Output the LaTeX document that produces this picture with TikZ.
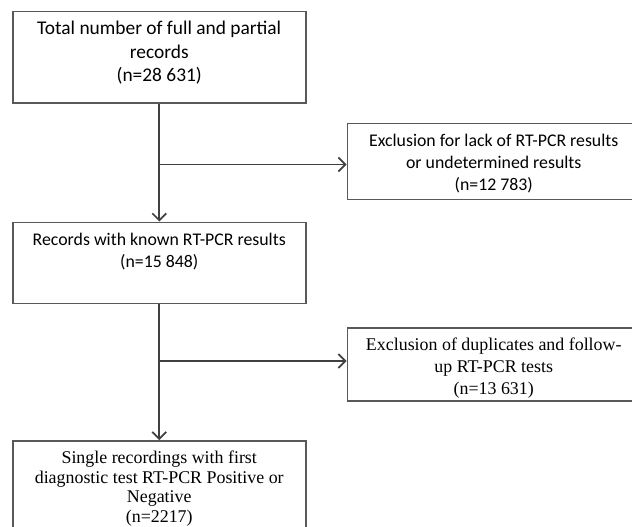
\documentclass[tikz,border=0pt]{standalone}
\usepackage{fontspec}
\setmainfont{Carlito}
\newfontfamily\timesfont{Liberation Serif}
\usetikzlibrary{arrows.meta,positioning}

\begin{document}
\begin{tikzpicture}[
        x=1pt, y=1pt,
        node distance=118pt and 40pt,
        box/.style={draw=black!65, line width=1.5pt, minimum width=293pt, inner sep=0pt},
        calibri/.style={font=\fontsize{17.8}{22}\selectfont, align=center, anchor=north, inner sep=0pt, yshift=-11pt},
        times/.style={font=\timesfont\fontsize{17.9}{22}\selectfont, align=center, anchor=north, inner sep=0pt, yshift=-11pt},
        flow/.style={draw=black!75, line width=1.6pt, -{Straight Barb[length=7pt, width=14pt]}}
    ]
  \useasboundingbox (0,0) rectangle (632,-527);
  \clip (0,0) rectangle (632,-527);

  % Boxes
  \node (total) [box, minimum height=91pt, anchor=north west,
    label={[calibri, font=\fontsize{19.4}{23.5}\selectfont, yshift=1pt]north:Total number of full and partial\\records\\(n=28 631)}] at (12,-11) {};
  \node (excl1) [box, minimum height=76pt, below right=19pt and 40pt of total,
    label={[calibri]north:Exclusion for lack of RT-PCR results\\or undetermined results\\(n=12 783)}] {};
  \node (known) [box, minimum height=81pt, below=of total,
    label={[calibri]north:Records with known RT-PCR results\\(n=15 848)}] {};
  \node (excl2) [box, minimum height=73pt, below right=23pt and 40pt of known,
    label={[times]north:Exclusion of duplicates and follow-\\up RT-PCR tests\\(n=13 631)}] {};
  \node (single) [box, minimum height=120pt, below=136pt of known,
    label={[times, font=\timesfont\fontsize{17.9}{19.5}\selectfont]north:Single recordings with first\\diagnostic test RT-PCR Positive or\\Negative\\(n=2217)}] {};

  % Branch points
  \path (total.south) ++(0,-61) coordinate (split1);
  \path (known.south) ++(0,-57) coordinate (split2);

  % Arrows
  \draw[flow] (total) -- (known);
  \draw[flow] (split1) -- (split1 -| excl1.west);
  \draw[flow] (known) -- (single);
  \draw[flow] (split2) -- (split2 -| excl2.west);
\end{tikzpicture}
\end{document}
